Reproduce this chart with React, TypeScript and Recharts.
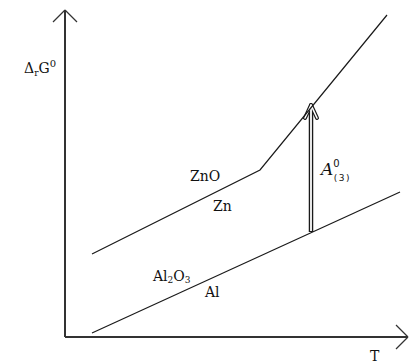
import { LineChart, Line, XAxis, YAxis, ReferenceLine, Customized } from 'recharts';

// free enthalpy lines, T on x, ΔrG° on y (origin at the axes crossing)
const znT = [27, 195, 322];
const znG = [83, 167, 322];
const alT = [27, 335];
const alG = [4, 145];

// affinity arrow between the two lines
const arrowT = 246;
const arrowFrom = 105;
const arrowTo = 232;

const znData = znT.map((t, i) => ({ t, g: znG[i] }));
const alData = alT.map((t, i) => ({ t, g: alG[i] }));

const W = 411;
const H = 363;
const xDomain: [number, number] = [-65, 346];
const yDomain: [number, number] = [-26, 337];

const ink = '#1a1a1a';
const axisInk = '#333';
const serif = '"DejaVu Serif", serif';

type Pt = { x: number; y: number };
const seg = (a: Pt, b: Pt) => [a, b] as [Pt, Pt];

function Labels() {
  return (
    <g fontFamily={serif} fill="#111" fontSize={14}>
      <text x={24} y={73}>
        Δ<tspan fontSize={9} dy={3}>r</tspan>
        <tspan dy={-3}>G</tspan>
        <tspan fontSize={10} dy={-6}>0</tspan>
      </text>
      <text x={190} y={181}>ZnO</text>
      <text x={213} y={211}>Zn</text>
      <text x={153} y={281}>
        Al<tspan fontSize={9} dy={2}>2</tspan>
        <tspan dy={-2}>O</tspan>
        <tspan fontSize={9} dy={2}>3</tspan>
      </text>
      <text x={205} y={297}>Al</text>
      <text x={370} y={361}>T</text>
      <text x={321} y={175} fontStyle="italic" fontSize={17} fontFamily={'"DejaVu Serif", serif'}>
        A
        <tspan fontStyle="normal" fontSize={10} dy={-8} fontFamily={'"DejaVu Sans", sans-serif'}>0</tspan>
        <tspan fontStyle="normal" fontSize={9} dx={-6} dy={14} letterSpacing={1.5} fontFamily={'"DejaVu Sans", sans-serif'}>(3)</tspan>
      </text>
    </g>
  );
}

export default function App() {
  const tipY = arrowTo;
  return (
    <div style={{ position: 'absolute', left: 0, top: 0, background: '#fff' }}>
      <LineChart width={W} height={H} margin={{ top: 0, right: 0, bottom: 0, left: 0 }}>
        <XAxis type="number" dataKey="t" domain={xDomain} hide allowDataOverflow />
        <YAxis type="number" dataKey="g" domain={yDomain} hide allowDataOverflow />

        {/* axes with open arrowheads */}
        <ReferenceLine segment={seg({ x: 0, y: 0 }, { x: 0, y: 327 })} stroke={axisInk} strokeWidth={2} ifOverflow="visible" />
        <ReferenceLine segment={seg({ x: -12, y: 315 }, { x: 0, y: 327 })} stroke={axisInk} strokeWidth={1.3} ifOverflow="visible" />
        <ReferenceLine segment={seg({ x: 12, y: 315 }, { x: 0, y: 327 })} stroke={axisInk} strokeWidth={1.3} ifOverflow="visible" />
        <ReferenceLine segment={seg({ x: 0, y: 0 }, { x: 343, y: 0 })} stroke={axisInk} strokeWidth={2} ifOverflow="visible" />
        <ReferenceLine segment={seg({ x: 331, y: 12 }, { x: 343, y: 0 })} stroke={axisInk} strokeWidth={1.3} ifOverflow="visible" />
        <ReferenceLine segment={seg({ x: 331, y: -12 }, { x: 343, y: 0 })} stroke={axisInk} strokeWidth={1.3} ifOverflow="visible" />

        {/* double-stroke arrow: dark wide stroke with a white core */}
        <ReferenceLine segment={seg({ x: arrowT, y: arrowFrom }, { x: arrowT, y: tipY - 1 })} stroke={ink} strokeWidth={4.5} ifOverflow="visible" />
        <ReferenceLine segment={seg({ x: arrowT - 6, y: tipY - 13 }, { x: arrowT, y: tipY })} stroke={ink} strokeWidth={4} strokeLinecap="round" ifOverflow="visible" />
        <ReferenceLine segment={seg({ x: arrowT + 6, y: tipY - 13 }, { x: arrowT, y: tipY })} stroke={ink} strokeWidth={4} strokeLinecap="round" ifOverflow="visible" />
        <ReferenceLine segment={seg({ x: arrowT, y: arrowFrom + 1 }, { x: arrowT, y: tipY - 2 })} stroke="#fff" strokeWidth={1.8} ifOverflow="visible" />
        <ReferenceLine segment={seg({ x: arrowT - 6, y: tipY - 13 }, { x: arrowT, y: tipY })} stroke="#fff" strokeWidth={1.6} strokeLinecap="round" ifOverflow="visible" />
        <ReferenceLine segment={seg({ x: arrowT + 6, y: tipY - 13 }, { x: arrowT, y: tipY })} stroke="#fff" strokeWidth={1.6} strokeLinecap="round" ifOverflow="visible" />

        <Line data={znData} dataKey="g" type="linear" stroke={ink} strokeWidth={1.2} dot={false} activeDot={false} isAnimationActive={false} />
        <Line data={alData} dataKey="g" type="linear" stroke={ink} strokeWidth={1.2} dot={false} activeDot={false} isAnimationActive={false} />

        <Customized component={Labels} />
      </LineChart>
    </div>
  );
}
